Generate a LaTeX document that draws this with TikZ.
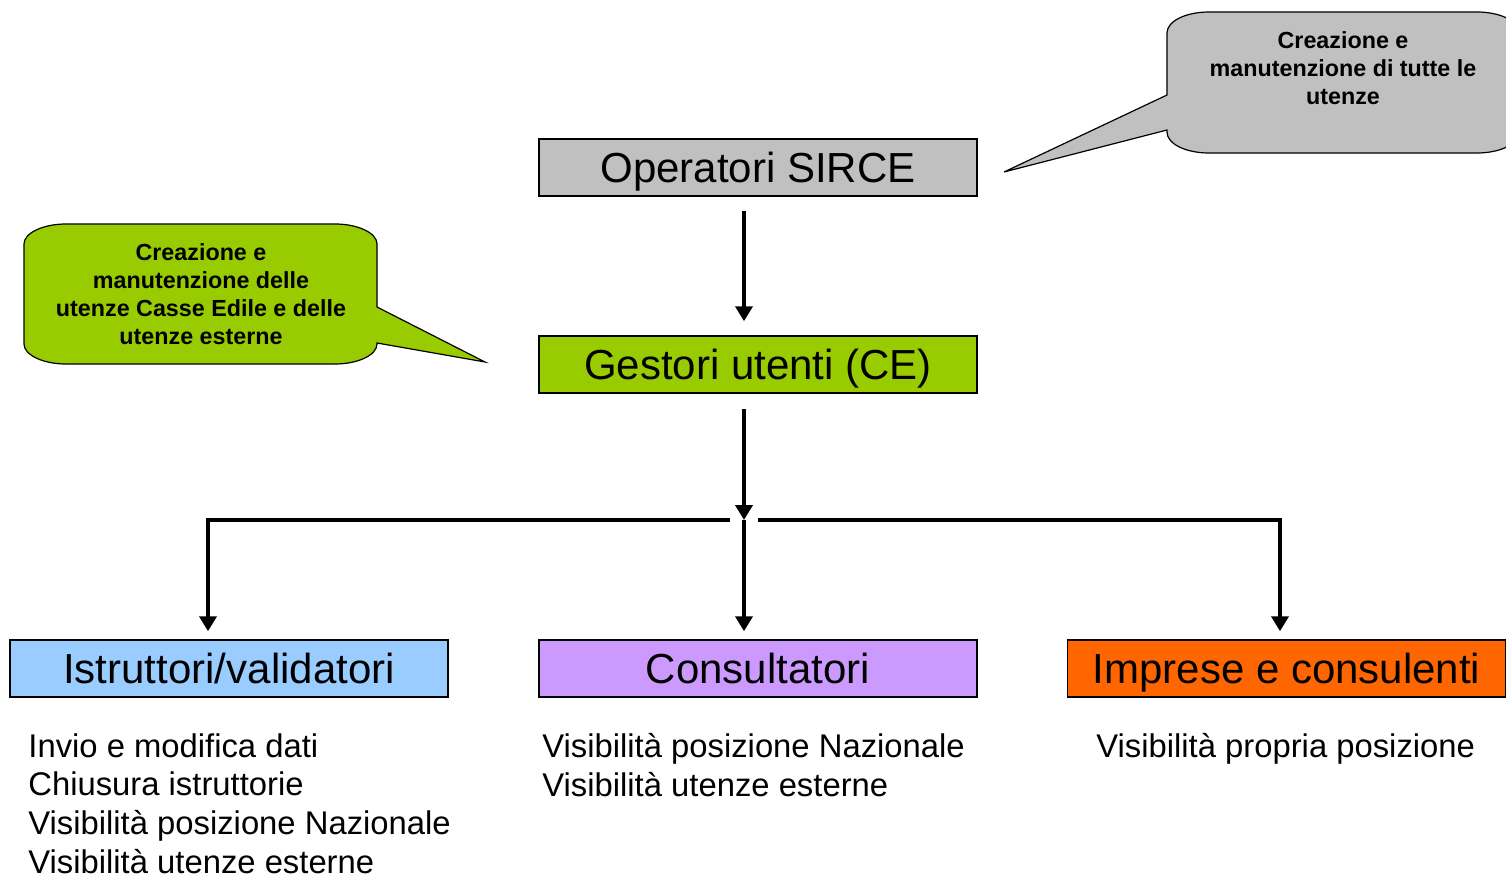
\documentclass[tikz,border=0pt]{standalone}
\usepackage{fontspec}
\setmainfont{Liberation Sans}
\usepackage{tikz}
\usetikzlibrary{positioning,arrows.meta}

\definecolor{sircegray}{HTML}{C0C0C0}
\definecolor{cegreen}{HTML}{99CC00}
\definecolor{istrblue}{HTML}{99CCFF}
\definecolor{conspurple}{HTML}{CC99FF}
\definecolor{impresorange}{HTML}{FF6600}

\begin{document}
\begin{tikzpicture}[x=0.5pt,y=-0.5pt,
	box/.style={draw=black, line width=0.75pt, minimum width=219pt, minimum height=28.5pt,
		inner sep=0pt, font=\fontsize{21}{25}\selectfont, text height=19.2pt, text depth=4.2pt},
	callout/.style={draw=black, line width=0.6pt},
	calltext/.style={inner sep=0pt, align=center, font=\fontsize{11.65}{14}\selectfont\bfseries},
	duties/.style={inner sep=0pt, anchor=north west, align=left, font=\fontsize{16.4}{19.4}\selectfont},
	flow/.style={line width=2pt, -{Triangle[width=8.5pt,length=7.5pt]}}]
	\useasboundingbox (0,0) rectangle (1506,878);

	% roles
	\node [box, fill=sircegray] (sirce) at (758,167.5) {Operatori SIRCE};
	\node [box, fill=cegreen] (gestori) at (758,364.5) {Gestori utenti (CE)};
	\node [box, fill=istrblue] (istruttori) at (229,668.5) {Istruttori/validatori};
	\node [box, fill=conspurple] (consultatori) at (758,668.5) {Consultatori};
	\node [box, fill=impresorange] (imprese) at (1286.5,668.5) {Imprese e consulenti};

	% callouts
	\draw [callout, fill=sircegray] (1209,12) -- (1477,12) .. controls (1500,12) and (1519,21) .. (1519,33)
		-- (1519,132) .. controls (1519,144) and (1500,153) .. (1477,153) -- (1209,153)
		.. controls (1186,153) and (1167,144) .. (1167,132) -- (1167,130) -- (1004,172) -- (1167,95)
		-- (1167,33) .. controls (1167,21) and (1186,12) .. (1209,12) -- cycle;
	\node [calltext, anchor=north] (noteSirce) at (1343,31) {Creazione e\\manutenzione di tutte le\\utenze};

	\draw [callout, fill=cegreen] (66,224) -- (335,224) .. controls (358,224) and (377,233) .. (377,244)
		-- (377,307) -- (485,362) -- (377,343) -- (377,344) .. controls (377,355) and (358,364) .. (335,364)
		-- (66,364) .. controls (43,364) and (24,355) .. (24,344)
		-- (24,244) .. controls (24,233) and (43,224) .. (66,224) -- cycle;
	\node [calltext, anchor=north] (noteGestori) at (201,243) {Creazione e\\manutenzione delle\\utenze Casse Edile e delle\\utenze esterne};

	% what each role can do
	\node [duties] (istruttoriTxt) at (28,733) {Invio e modifica dati\\Chiusura istruttorie\\Visibilità posizione Nazionale\\Visibilità utenze esterne};
	\node [duties] (consultatoriTxt) at (542,733) {Visibilità posizione Nazionale\\Visibilità utenze esterne};
	\node [duties] (impreseTxt) at (1096,733) {Visibilità propria posizione};

	% connectors
	\coordinate (j) at (744,520);
	\coordinate (jl) at (208,520);
	\coordinate (jr) at (1280,520);

	\draw [flow, shorten <=7pt, shorten >=7pt] (sirce.south -| j) -- (gestori.north -| j);
	\draw [flow, shorten <=7.5pt] (gestori.south -| j) -- (j);
	\draw [flow, shorten >=4pt] ([xshift=-7pt]j) -- (jl) -- (istruttori.north -| jl);
	\draw [flow, shorten >=4pt] (j) -- (consultatori.north -| j);
	\draw [flow, shorten >=4pt] ([xshift=7pt]j) -- (jr) -- (imprese.north -| jr);
\end{tikzpicture}
\end{document}
